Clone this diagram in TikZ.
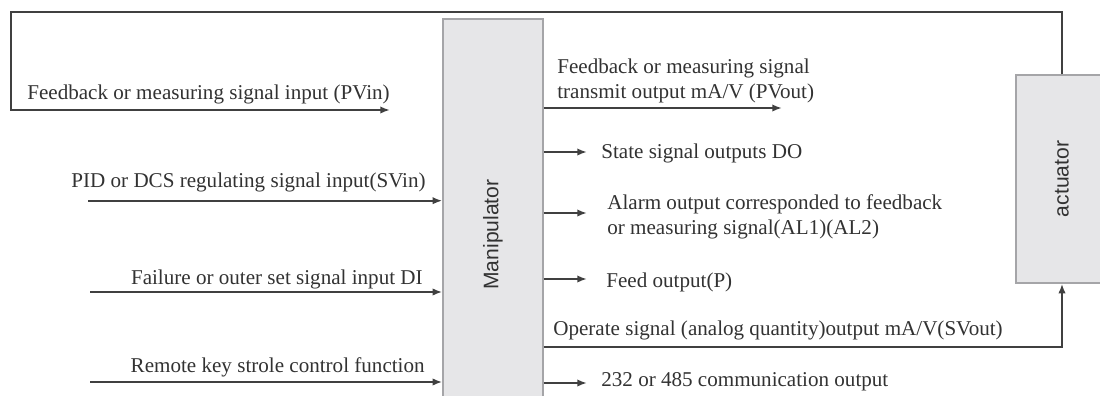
\documentclass[tikz,border=0pt]{standalone}
\usepackage{fontspec}
\setmainfont{Liberation Serif}
\setsansfont{Liberation Sans}
\usepackage{graphicx}
\usepackage{xcolor}
\usetikzlibrary{arrows.meta}
\definecolor{boxfill}{RGB}{230,230,232}
\definecolor{boxedge}{RGB}{165,165,168}
\definecolor{wire}{RGB}{64,64,64}
\definecolor{ink}{RGB}{50,50,50}
\newcommand{\drawblock}{\node[draw=boxedge, fill=boxfill, line width=0.8pt, rectangle, inner sep=0, font=\sffamily\fontsize{12}{14}\selectfont]}
\newcommand{\drawlabel}{\node[inner sep=0, align=left]}
\newcommand{\arrsig}{\draw[line width=1.1pt, color=wire, -{Latex[length=5.5pt,width=4.2pt]}]}

\begin{document}
\begin{tikzpicture}[x=0.02cm, y=-0.02cm, every node/.style={text=ink, font=\fontsize{12}{13.7}\selectfont}]
\useasboundingbox (0,0) rectangle (1100,396);
\clip (0,0) rectangle (1100,396);
%blocks
\drawblock[minimum width=2cm, minimum height=8.62cm] (man) at (493,234.5) {\rotatebox{90}{Manipulator}};
\drawblock[minimum width=1.84cm, minimum height=4.16cm] (act) at (1062,179) {\rotatebox{90}{actuator}};

%free ends and corners
\coordinate (fbtop) at (11,12);
\coordinate (fbleft) at (11,110);
\coordinate (pvin) at (390,110);
\coordinate (svin) at (88,200.7);
\coordinate (di) at (90,292);
\coordinate (key) at (90,382);
\coordinate (pvout) at (782,108);
\coordinate (do) at (587,152);
\coordinate (al) at (587,213);
\coordinate (p) at (587,279);
\coordinate (svcorner) at (1062,347);
\coordinate (com) at (587,383);

%feedback loop
\arrsig (act.north) |- (fbtop) -- (fbleft) -- (pvin);
\drawlabel[anchor=base west] (lblpvin) at (27,99) {Feedback or measuring signal input (PVin)};

%inputs
\arrsig (svin) -- (svin -| man.west);
\drawlabel[anchor=base east] (lblsvin) at (426,187) {PID or DCS regulating signal input(SVin)};
\arrsig (di) -- (di -| man.west);
\drawlabel[anchor=base east] (lbldi) at (423,284) {Failure or outer set signal input DI};
\arrsig (key) -- (key -| man.west);
\drawlabel[anchor=base east] (lblkey) at (425,372) {Remote key strole control function};

%outputs
\arrsig (man.east |- pvout) -- (pvout);
\drawlabel[anchor=base west] (lblpvout) at (557,98) {Feedback or measuring signal\\transmit output mA/V (PVout)};
\arrsig (man.east |- do) -- (do);
\drawlabel[anchor=base west] (lbldo) at (601,158) {State signal outputs DO};
\arrsig (man.east |- al) -- (al);
\drawlabel[anchor=base west] (lblal) at (607,234) {Alarm output corresponded to feedback\\or measuring signal(AL1)(AL2)};
\arrsig (man.east |- p) -- (p);
\drawlabel[anchor=base west] (lblp) at (606,287) {Feed output(P)};
\arrsig (man.east |- svcorner) -- (svcorner) -- (act.south);
\drawlabel[anchor=base west] (lblsv) at (553,335) {Operate signal (analog quantity)output mA/V(SVout)};
\arrsig (man.east |- com) -- (com);
\drawlabel[anchor=base west] (lblcom) at (601,386) {232 or 485 communication output};
\end{tikzpicture}
\end{document}
